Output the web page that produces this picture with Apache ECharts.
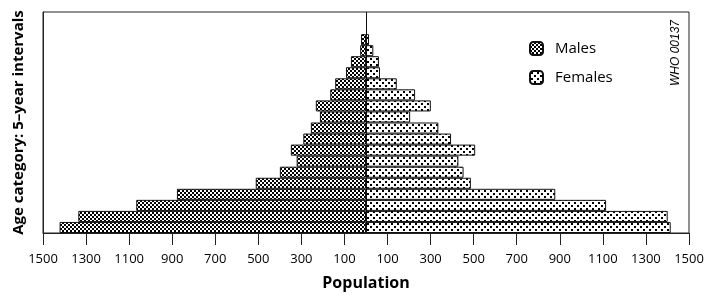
<!DOCTYPE html>
<html>
<head>
<meta charset="utf-8">
<script src="https://cdn.jsdelivr.net/npm/echarts@6/dist/echarts.min.js"></script>
<style>
  html, body { margin: 0; padding: 0; background: #fff; }
  #chart { width: 705px; height: 295px; }
</style>
</head>
<body>
<div id="chart"></div>
<script>
// age groups, youngest at the bottom
const ageGroups = ['0–4', '5–9', '10–14', '15–19', '20–24', '25–29', '30–34', '35–39', '40–44', '45–49',
  '50–54', '55–59', '60–64', '65–69', '70–74', '75–79', '80–84', '85–89', '90–94', '95+']
const males = [1423, 1336, 1067, 878, 512, 400, 322, 349, 291, 256, 214, 233, 166, 143, 93, 70, 27, 23]
const females = [1415, 1401, 1115, 879, 487, 453, 429, 507, 395, 336, 205, 301, 228, 143, 65, 60, 34, 14]

// fill patterns
function checkPattern() {
  const c = document.createElement('canvas')
  c.width = 4; c.height = 4
  const ctx = c.getContext('2d')
  ctx.fillStyle = '#fff'; ctx.fillRect(0, 0, 4, 4)
  ctx.fillStyle = '#000'
  ctx.fillRect(0, 0, 2, 2)
  ctx.fillRect(2, 2, 2, 2)
  return c
}
function dotPattern() {
  const c = document.createElement('canvas')
  c.width = 6; c.height = 6
  const ctx = c.getContext('2d')
  ctx.fillStyle = '#fff'; ctx.fillRect(0, 0, 6, 6)
  ctx.fillStyle = '#000'
  ctx.fillRect(1, 1, 2, 2)
  ctx.fillRect(4, 4, 2, 2)
  return c
}

const myChart = echarts.init(document.getElementById('chart'))

const option = {
  animation: false,
  textStyle: { fontFamily: 'Open Sans', color: '#000' },
  grid: {
    left: 43,
    right: 16,
    top: 12,
    bottom: 62,
    show: true,
    borderColor: '#222',
    borderWidth: 1,
    outerBoundsMode: 'none',
    containLabel: false,
  },
  legend: {
    orient: 'vertical',
    left: 524,
    top: 36,
    itemWidth: 13,
    itemHeight: 13,
    itemGap: 14,
    textStyle: { fontSize: 15, color: '#000', padding: [0, 0, 0, 7] },
    data: ['Males', 'Females'],
  },
  xAxis: {
    type: 'value',
    min: -1500,
    max: 1500,
    interval: 200,
    name: 'Population',
    nameLocation: 'middle',
    nameGap: 42,
    nameTextStyle: { fontSize: 16, fontWeight: 'bold', color: '#000' },
    axisLine: { show: true, lineStyle: { color: '#222', width: 1 } },
    axisTick: { show: true, length: 12, lineStyle: { color: '#222' } },
    axisLabel: {
      fontSize: 13,
      color: '#000',
      margin: 20,
      formatter: v => Math.abs(v),
    },
    splitLine: { show: false },
  },
  yAxis: {
    type: 'category',
    data: ageGroups,
    name: 'Age category: 5–year intervals',
    nameLocation: 'middle',
    nameRotate: 90,
    nameGap: 17,
    nameTextStyle: { fontSize: 15, fontWeight: 'bold', color: '#000' },
    axisLine: { show: true, onZero: false, lineStyle: { color: '#222' } },
    axisTick: { show: false },
    axisLabel: { show: false },
  },
  graphic: [{
    type: 'text',
    left: 670,
    top: 20,
    rotation: Math.PI / 2,
    style: {
      text: 'WHO 00137',
      font: 'italic 12px "Liberation Sans"',
      fill: '#000',
    },
  }],
  series: [
    {
      name: 'Males',
      type: 'bar',
      barGap: '-100%',
      barCategoryGap: 0,
      data: males.map(v => -v),
      itemStyle: {
        color: { image: checkPattern(), repeat: 'repeat' },
        borderColor: '#111',
        borderWidth: 1,
      },
      markLine: {
        silent: true,
        symbol: 'none',
        label: { show: false },
        lineStyle: { color: '#111', width: 1, type: 'solid' },
        data: [{ xAxis: 0 }],
      },
    },
    {
      name: 'Females',
      type: 'bar',
      barCategoryGap: 0,
      data: females,
      itemStyle: {
        color: { image: dotPattern(), repeat: 'repeat' },
        borderColor: '#111',
        borderWidth: 1,
      },
    },
  ],
}

myChart.setOption(option)
</script>
</body>
</html>
